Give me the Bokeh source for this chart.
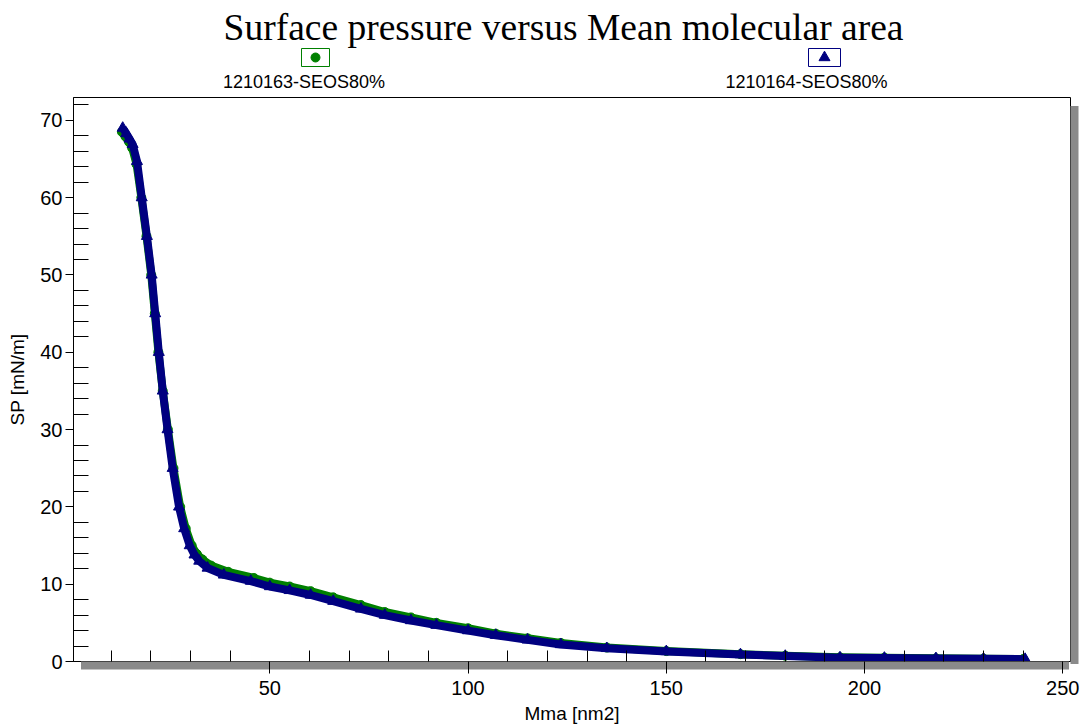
from bokeh.plotting import figure
from bokeh.layouts import column
from bokeh.models import FixedTicker, Range1d, LinearAxis, CustomJSTickFormatter
from bokeh.core.properties import value
from bokeh.embed import file_html
from bokeh.resources import INLINE

# ---------------- data ----------------
title_text = "Surface pressure versus Mean molecular area"
series_names = ["1210163-SEOS80%", "1210164-SEOS80%"]
x_label = "Mma [nm2]"
y_label = "SP [mN/m]"

mma_163 = [12.7, 13.6, 14.5, 15.3, 16.4, 17.6, 18.9, 20.1, 21.0, 21.9, 23.0, 24.3,
           25.7, 27.4, 28.8, 30.3, 31.6, 33.0, 35.2, 39.5, 46.0, 50.0, 55.0, 60.3,
           66.0, 73.0, 79.0, 85.6, 92.0, 100.0, 107.0, 115.0, 123.4, 135.0, 150.0,
           168.7, 180.0, 193.8, 205.0, 218.0, 230.0, 240.0]
sp_163 = [68.5, 67.9, 67.2, 66.4, 64.3, 60.0, 55.0, 50.0, 45.0, 40.0, 35.0, 30.0,
          25.0, 20.0, 17.2, 15.0, 13.9, 13.2, 12.4, 11.6, 10.8, 10.2, 9.7, 9.1,
          8.3, 7.3, 6.4, 5.7, 5.0, 4.3, 3.6, 3.0, 2.4, 1.8, 1.35,
          0.95, 0.75, 0.55, 0.5, 0.42, 0.37, 0.32]

mma_164 = [12.9, 13.8, 14.6, 15.4, 16.5, 17.7, 19.0, 20.2, 21.1, 22.0, 23.0, 24.2,
           25.5, 27.1, 28.4, 29.8, 31.0, 32.2, 34.3, 38.4, 45.2, 50.0, 55.0, 60.3,
           66.0, 73.0, 79.0, 85.6, 92.0, 100.0, 107.0, 115.0, 123.4, 135.0, 150.0,
           168.7, 180.0, 193.8, 205.0, 218.0, 230.0, 240.5]
sp_164 = [69.0, 68.3, 67.6, 66.9, 64.7, 60.0, 55.0, 50.0, 45.0, 40.0, 35.0, 30.0,
          25.0, 20.0, 17.2, 15.0, 13.8, 13.0, 12.1, 11.2, 10.4, 9.7, 9.2, 8.6,
          7.8, 6.8, 6.0, 5.3, 4.7, 4.0, 3.4, 2.8, 2.2, 1.7, 1.3,
          0.9, 0.7, 0.5, 0.45, 0.4, 0.35, 0.3]

x_major = [50, 100, 150, 200, 250]
x_minor = [v for v in range(10, 251, 10) if v % 50 != 0]
y_major = [0, 10, 20, 30, 40, 50, 60, 70]
y_minor = [v for v in range(2, 73, 2) if v % 10 != 0]

green = "#008000"
navy = "#000080"
shadow = "#8a8a8a"
grid_col = "#383838"

# ---------------- geometry ----------------
W = 1081
HEAD_H = 97
MAIN_H = 629
FL, FR, FB = 73, 11, 65
X0, X1 = 0.49, 251.94
Y0, Y1 = 0.0, 72.95

# ---------------- header: title + legend ----------------
# (its frame is aligned with the main plot frame by the column layout)
head = figure(width=W, height=HEAD_H, output_backend="svg", toolbar_location=None,
              x_range=Range1d(FL, W - FR), y_range=Range1d(HEAD_H, 0),
              x_axis_type=None, y_axis_type=None, min_border=0,
              min_border_left=FL, min_border_right=FR)
head.outline_line_color = None
head.background_fill_color = "white"
head.border_fill_color = "white"
head.grid.visible = False

head.text(x=[563], y=[27], text=[title_text], text_font=value("Liberation Serif"),
          text_font_size="37.5px", text_color="black", text_align="center",
          text_baseline="alphabetic")

leg_box_x = [315, 824]
leg_text_x = [303.5, 806]
head.rect(x=leg_box_x, y=[57, 57], width=[28, 32], height=[18, 18],
          fill_color="white", line_color=[green, navy], line_width=1)
head.scatter(x=[leg_box_x[0]], y=[57], marker="circle", size=9, color=green)
head.scatter(x=[leg_box_x[1]], y=[57], marker="triangle", size=11, color=navy)
head.text(x=leg_text_x, y=[81, 81], text=series_names, text_font=value("Liberation Sans"),
          text_font_size="18px", text_color="black", text_align="center",
          text_baseline="alphabetic")

# ---------------- main plot ----------------
p = figure(width=W, height=MAIN_H, output_backend="svg", toolbar_location=None,
           x_range=Range1d(X0, X1), y_range=Range1d(Y0, Y1),
           x_axis_type=None, y_axis_type=None,
           min_border_left=FL, min_border_top=0, min_border_right=FR,
           min_border_bottom=FB)
p.background_fill_color = "white"
p.border_fill_color = "white"
p.outline_line_color = "black"
p.outline_line_width = 1
p.outline_line_alpha = 1

xt = FixedTicker(ticks=x_major, minor_ticks=x_minor)
yt = FixedTicker(ticks=y_major, minor_ticks=y_minor)
blank = CustomJSTickFormatter(code="return ''")


def no_labels(ax):
    ax.formatter = blank
    ax.major_label_text_font_size = "0px"
    ax.major_label_standoff = 0
    ax.axis_label = None


# band axis directly below the frame: black axis line, inner minor ticks, grey shadow
band_x = [3 + i for i in range(249)]
bx = LinearAxis(ticker=FixedTicker(ticks=band_x, minor_ticks=x_minor))
no_labels(bx)
bx.axis_line_color = "black"
bx.major_tick_line_color = shadow
bx.major_tick_line_width = 5
bx.major_tick_line_cap = "butt"
bx.major_tick_in = 0
bx.major_tick_out = 8
bx.minor_tick_line_color = "black"
bx.minor_tick_in = 11
bx.minor_tick_out = 0

# main x axis (labels, long major ticks)
xa = LinearAxis(ticker=xt, axis_label=x_label)
xa.axis_line_alpha = 0
xa.major_tick_line_color = "black"
xa.major_tick_in = 8
xa.major_tick_out = 4
xa.minor_tick_line_alpha = 0
xa.minor_tick_in = 0
xa.minor_tick_out = 0
xa.major_label_standoff = 7
xa.axis_label_standoff = 5

p.add_layout(bx, "below")
p.add_layout(xa, "below")

# y axis
ya = LinearAxis(ticker=yt, axis_label=y_label)
ya.axis_line_color = "black"
ya.major_tick_line_color = "black"
ya.minor_tick_line_color = "black"
ya.major_tick_in = 0
ya.major_tick_out = 8
ya.minor_tick_in = 15
ya.minor_tick_out = 0
ya.major_label_standoff = 3
ya.axis_label_standoff = 9
p.add_layout(ya, "left")

# right shadow band
band_y = [i * 0.5 for i in range(0, 144)]
ry = LinearAxis(ticker=FixedTicker(ticks=band_y))
no_labels(ry)
ry.axis_line_alpha = 0
ry.major_tick_line_color = shadow
ry.major_tick_line_width = 5
ry.major_tick_line_cap = "butt"
ry.major_tick_in = 0
ry.major_tick_out = 8
ry.minor_tick_line_alpha = 0
ry.minor_tick_in = 0
ry.minor_tick_out = 0
p.add_layout(ry, "right")

for ax in (xa, ya):
    ax.major_label_text_font = "Liberation Sans"
    ax.major_label_text_font_size = "20px"
    ax.major_label_text_color = "black"
    ax.axis_label_text_font = "Liberation Sans"
    ax.axis_label_text_font_size = "19px"
    ax.axis_label_text_font_style = "normal"
    ax.axis_label_text_color = "black"

p.xgrid.ticker = xt
p.ygrid.ticker = yt
p.xgrid.grid_line_color = grid_col
p.ygrid.grid_line_color = grid_col

# series
p.line(mma_163, sp_163, line_width=8, color=green, line_join="round")
p.scatter(mma_163, sp_163, marker="circle", size=9, color=green)
p.line(mma_164, sp_164, line_width=8, color=navy, line_join="round")
p.scatter(mma_164, sp_164, marker="triangle", size=11, color=navy)

layout = column(head, p, spacing=0)
open("out.html", "w").write(file_html(layout, INLINE))
